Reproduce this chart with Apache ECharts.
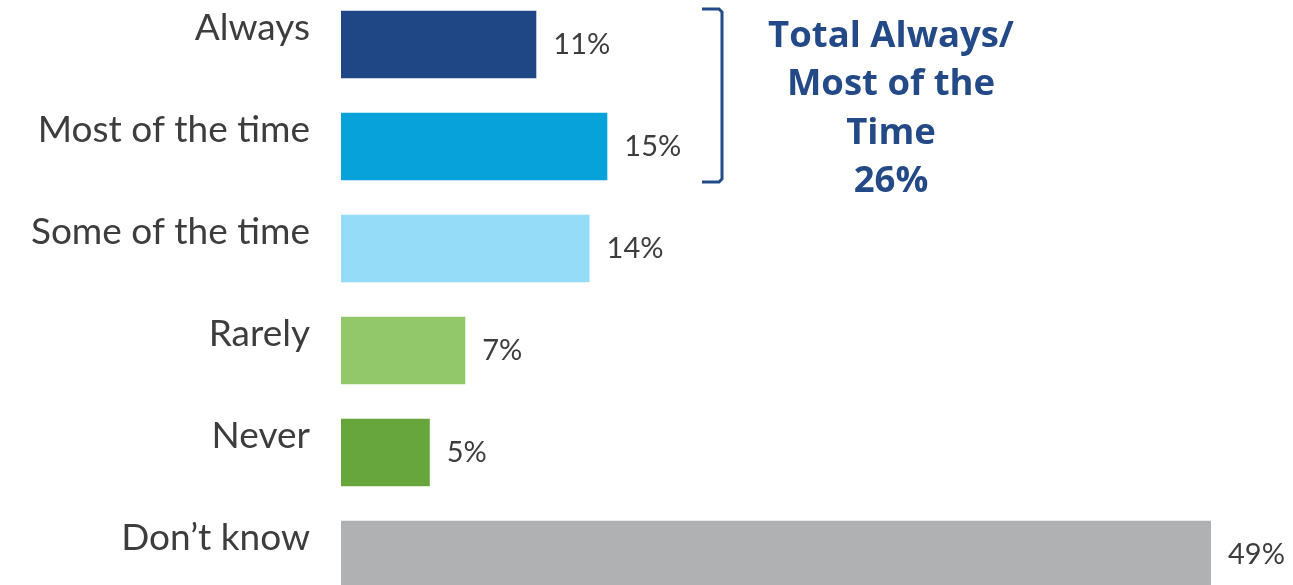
<!DOCTYPE html>
<html><head><meta charset="utf-8">
<script src="https://cdn.jsdelivr.net/npm/echarts@6/dist/echarts.min.js"></script>
<style>html,body{margin:0;padding:0;background:#fff}#c{width:1293px;height:585px}</style>
</head><body><div id="c"></div>
<script>
const categories = ['Always', 'Most of the time', 'Some of the time', 'Rarely', 'Never', 'Don\u2019t know'];
const values = [11, 15, 14, 7, 5, 49];
const barColors = ['#1f4785', '#07a2da', '#94dcf8', '#92c86a', '#66a63c', '#b0b1b3'];
const annotationLines = ['Total Always/', 'Most of the', 'Time', '26%'];

const chart = echarts.init(document.getElementById('c'));
const FONT = 'Lato';
chart.setOption({
  animation: false,
  grid: { left: 341, right: 82, top: -6.5, bottom: -20.5, containLabel: false, outerBoundsMode: 'none' },
  xAxis: { type: 'value', min: 0, max: 49, show: false },
  yAxis: {
    type: 'category', inverse: true, data: categories,
    axisLine: { show: false }, axisTick: { show: false },
    axisLabel: { margin: 31, fontFamily: FONT, fontSize: 37, color: '#3d3d3d', verticalAlign: 'bottom', lineHeight: 32 }
  },
  series: [{
    type: 'bar', data: values.map((v, i) => ({ value: v, itemStyle: { color: barColors[i] } })),
    barCategoryGap: '34%',
    label: { show: true, position: 'right', distance: 17, formatter: '{c}%', fontFamily: FONT, fontSize: 29, color: '#3d3d3d' }
  }]
});

// bracket around first two bars
const halfBand = 33.5;
const yTop = chart.convertToPixel({ yAxisIndex: 0 }, categories[0]) - halfBand;
const yBot = chart.convertToPixel({ yAxisIndex: 0 }, categories[1]) + halfBand;
const bx = 722, bl = 20;
const col = '#234a87';
chart.setOption({
  graphic: [
    { type: 'polyline', shape: { points: [[bx - bl, yTop - 2], [bx - 3, yTop - 2], [bx, yTop + 1], [bx, yBot - 1], [bx - 3, yBot + 2], [bx - bl, yBot + 2]] },
      style: { stroke: col, lineWidth: 3, fill: null } },
    { type: 'text', x: 891, y: 12, style: {
      text: annotationLines.join('\n'), align: 'center', fontFamily: 'Open Sans', fontWeight: 'bold',
      fontSize: 36.5, lineHeight: 48.5, fill: col } }
  ]
});
</script></body></html>
